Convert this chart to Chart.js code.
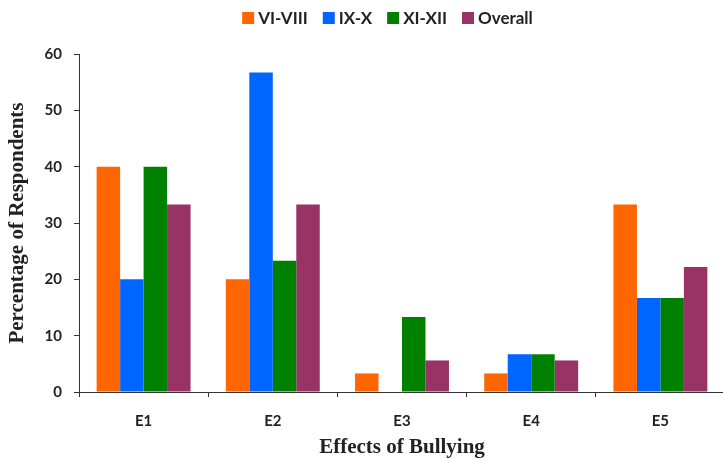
<!DOCTYPE html>
<html>
<head>
<meta charset="utf-8">
<title>Effects of Bullying</title>
<script src="https://cdn.jsdelivr.net/npm/chart.js@4.4.0/dist/chart.umd.min.js"></script>
<style>
  html, body { margin: 0; padding: 0; background: #fff; overflow: hidden; }
  #wrap { width: 725px; height: 460px; }
</style>
</head>
<body>
<div id="wrap"><canvas id="bullyChart" width="725" height="460"></canvas></div>
<script>
// categories and percentages per class group
const effects = ['E1', 'E2', 'E3', 'E4', 'E5'];
const gradeVItoVIII = [40, 20, 3.3, 3.3, 33.3];
const gradeIXtoX = [20, 56.7, 0, 6.7, 16.7];
const gradeXItoXII = [40, 23.3, 13.3, 6.7, 16.7];
const overall = [33.3, 33.3, 5.6, 5.6, 22.2];
const yTicks = [0, 10, 20, 30, 40, 50, 60];

const labelFont = 'Lato';
const titleFont = 'Liberation Serif';

// legend row across the top, drawn by hand so it can sit over the plot centre
const topLegend = {
  id: 'topLegend',
  afterDraw(chart) {
    const ctx = chart.ctx;
    ctx.save();
    ctx.font = `bold 17px ${labelFont}`;
    const box = 12, gapText = 4, gapItem = 15;
    const items = chart.data.datasets.map(ds => ({
      label: ds.label,
      color: ds.backgroundColor,
      w: ctx.measureText(ds.label).width
    }));
    const total = items.reduce((s, it) => s + box + gapText + it.w, 0) + gapItem * (items.length - 1);
    let x = 387.5 - total / 2;
    const y = 18;
    ctx.textBaseline = 'middle';
    items.forEach(it => {
      ctx.fillStyle = it.color;
      ctx.fillRect(x, y - box / 2, box, box);
      x += box + gapText;
      ctx.fillStyle = '#222';
      ctx.fillText(it.label, x, y + 1);
      x += it.w + gapItem;
    });
    ctx.restore();
  }
};

const series = [
  { label: 'VI-VIII', data: gradeVItoVIII, backgroundColor: '#FF6600' },
  { label: 'IX-X', data: gradeIXtoX, backgroundColor: '#0066FF' },
  { label: 'XI-XII', data: gradeXItoXII, backgroundColor: '#008000' },
  { label: 'Overall', data: overall, backgroundColor: '#993366' }
];

new Chart(document.getElementById('bullyChart'), {
  type: 'bar',
  data: {
    labels: effects,
    datasets: series.map(s => ({
      ...s,
      borderWidth: 0,
      categoryPercentage: 0.727,
      barPercentage: 1.0
    }))
  },
  options: {
    responsive: false,
    animation: false,
    layout: { padding: { top: 54, left: 0, right: 0, bottom: 0 } },
    plugins: {
      legend: { display: false },
      tooltip: { enabled: false }
    },
    scales: {
      x: {
        grid: { drawOnChartArea: false, drawTicks: true, tickLength: 5, color: '#333', offset: true },
        border: { color: '#333', width: 1 },
        ticks: { color: '#222', font: { family: labelFont, weight: 'bold', size: 15 }, padding: 15 },
        title: {
          display: true,
          text: 'Effects of Bullying',
          color: '#222',
          font: { family: titleFont, weight: 'bold', size: 21 },
          padding: { top: 0, bottom: 0 }
        },
        afterFit(scale) { scale.height = 68; }
      },
      y: {
        min: yTicks[0],
        max: yTicks[yTicks.length - 1],
        grid: { drawOnChartArea: false, tickLength: 5, color: '#333' },
        border: { color: '#333', width: 1 },
        ticks: {
          stepSize: yTicks[1] - yTicks[0],
          color: '#222',
          font: { family: labelFont, weight: 'bold', size: 15 },
          padding: 12
        },
        title: {
          display: true,
          text: 'Percentage of Respondents',
          color: '#222',
          font: { family: titleFont, weight: 'bold', size: 21 },
          padding: { top: 5, bottom: 0 }
        },
        afterFit(scale) { scale.width = 79; }
      }
    }
  },
  plugins: [topLegend]
});
</script>
</body>
</html>
